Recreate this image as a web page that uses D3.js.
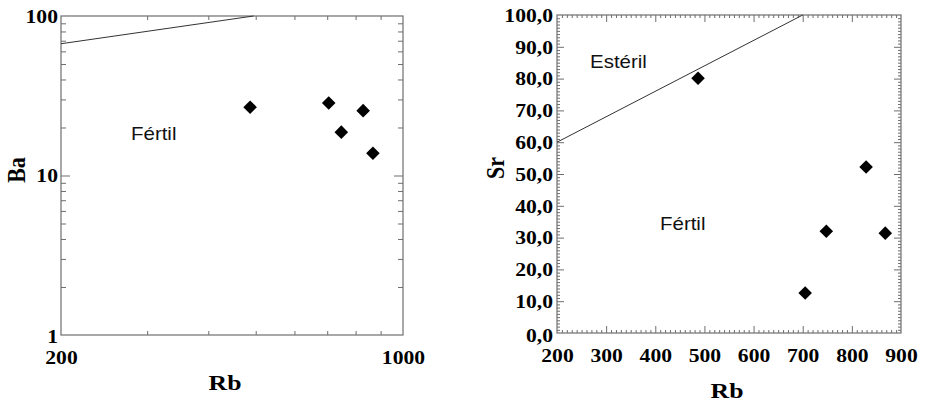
<!DOCTYPE html>
<html>
<head>
<meta charset="utf-8">
<script src="https://cdn.jsdelivr.net/npm/d3@7"></script>
<style>
  html, body { margin: 0; padding: 0; background: #fff; }
  svg { display: block; }
</style>
</head>
<body>
<svg id="chart" width="929" height="407"></svg>
<script>
// ---------- data ----------
const baRb = [487, 705, 748, 829, 868];
const baVals = [26.8, 28.5, 18.7, 25.5, 13.8];
const srRb = [487, 705, 748, 829, 868];
const srVals = [80.1, 12.6, 32.0, 52.2, 31.4];
const baLineRb = [200, 495];
const baLineBa = [67, 100];
const srLineRb = [200, 700];
const srLineSr = [60, 100];
const baXLabels = [200, 1000];
const baYLabels = [1, 10, 100];
const srXLabels = [200, 300, 400, 500, 600, 700, 800, 900];
const srYLabels = [0, 10, 20, 30, 40, 50, 60, 70, 80, 90, 100];

// ---------- setup ----------
const svg = d3.select("#chart");
const K = 1.17; // horizontal stretch of the glyphs in the reference
const serif = "'Liberation Serif', 'Times New Roman', serif";
const sans = "'Liberation Sans', Arial, sans-serif";
const frameColor = "#6e6e6e";
const tickFont = 18.5;

function stretchText(sel, dy) {
  sel.each(function () {
    const t = d3.select(this);
    const x = +t.attr("x") || 0;
    const y = +t.attr("y") || 0;
    t.attr("x", 0).attr("y", 0).attr("dy", dy)
      .attr("transform", `translate(${x},${y}) scale(${K},1)`);
  });
}

function diamond() {
  return d3.symbol(d3.symbolSquare, 92)();
}

// ================= LEFT: Ba vs Rb (log-log) =================
const L = { x0: 61, x1: 403, y0: 16, y1: 335 };
const xL = d3.scaleLog().domain([200, 1000]).range([L.x0, L.x1]);
const yL = d3.scaleLog().domain([1, 100]).range([L.y1, L.y0]);
const gL = svg.append("g");

const xMinorL = [300, 400, 500, 600, 700, 800, 900];
const yMinorL = [2, 3, 4, 5, 6, 7, 8, 9, 20, 30, 40, 50, 60, 70, 80, 90];
const yMajorL = [10];
function tickAxis(g, axis) { g.call(axis); g.select(".domain").remove(); g.selectAll("line").attr("stroke", frameColor); g.selectAll("text").remove(); }
tickAxis(gL.append("g").attr("transform", `translate(0,${L.y1})`), d3.axisBottom(xL).tickValues(xMinorL).tickSize(-4));
tickAxis(gL.append("g").attr("transform", `translate(0,${L.y0})`), d3.axisTop(xL).tickValues(xMinorL).tickSize(-4));
tickAxis(gL.append("g").attr("transform", `translate(${L.x0},0)`), d3.axisLeft(yL).tickValues(yMinorL).tickSize(-5));
tickAxis(gL.append("g").attr("transform", `translate(${L.x1},0)`), d3.axisRight(yL).tickValues(yMinorL).tickSize(-5));
tickAxis(gL.append("g").attr("transform", `translate(${L.x0},0)`), d3.axisLeft(yL).tickValues(yMajorL).tickSize(-9));
tickAxis(gL.append("g").attr("transform", `translate(${L.x1},0)`), d3.axisRight(yL).tickValues(yMajorL).tickSize(-9));

gL.append("rect").attr("x", L.x0).attr("y", L.y0).attr("width", L.x1 - L.x0).attr("height", L.y1 - L.y0)
  .attr("fill", "none").attr("stroke", frameColor).attr("stroke-width", 1.2);

const lyAx = gL.append("g").attr("transform", `translate(${L.x0},0)`)
  .call(d3.axisLeft(yL).tickValues(baYLabels).tickSize(0).tickPadding(3).tickFormat(d3.format("d")));
lyAx.select(".domain").remove();
lyAx.selectAll("text").attr("font-family", serif).attr("font-weight", "bold").attr("font-size", tickFont).attr("fill", "#000")
  .attr("y", d => d === 1 ? 1 : 0);
stretchText(lyAx.selectAll("text"), "0.34em");

const lxAx = gL.append("g").attr("transform", `translate(0,${L.y1})`)
  .call(d3.axisBottom(xL).tickValues(baXLabels).tickSize(0).tickPadding(16).tickFormat(d3.format("d")));
lxAx.select(".domain").remove();
lxAx.selectAll("text").attr("font-family", serif).attr("font-weight", "bold").attr("font-size", tickFont).attr("fill", "#000");
stretchText(lxAx.selectAll("text"), "0.71em");

gL.append("path")
  .datum(baLineRb.map((r, i) => [r, baLineBa[i]]))
  .attr("d", d3.line().x(d => xL(d[0])).y(d => yL(d[1])))
  .attr("fill", "none").attr("stroke", "#333").attr("stroke-width", 1);

gL.selectAll("path.pt").data(baRb.map((r, i) => [r, baVals[i]])).join("path")
  .attr("class", "pt").attr("d", diamond())
  .attr("transform", d => `translate(${xL(d[0])},${yL(d[1])}) rotate(45)`)
  .attr("fill", "#000");

gL.append("text").attr("font-family", sans).attr("font-size", 17.5).attr("fill", "#111")
  .attr("transform", `translate(131,140) scale(${K},1)`).text("Fértil");

gL.append("text").attr("font-family", serif).attr("font-weight", "bold").attr("font-size", 22)
  .attr("text-anchor", "middle").attr("transform", `translate(225,390) scale(${K},1)`).text("Rb");
gL.append("text").attr("font-family", serif).attr("font-weight", "bold").attr("font-size", 22)
  .attr("text-anchor", "middle").attr("transform", `translate(25,170) rotate(-90) scale(1,${K})`).text("Ba");

// ================= RIGHT: Sr vs Rb (linear) =================
const R = { x0: 557, x1: 901, y0: 15, y1: 333 };
const xR = d3.scaleLinear().domain([200, 900]).range([R.x0, R.x1]);
const yR = d3.scaleLinear().domain([0, 100]).range([R.y1, R.y0]);
const gR = svg.append("g");

const xMinorR = d3.range(200, 901, 10).filter(v => v % 100 !== 0);
const yMinorR = d3.range(0, 101, 1).filter(v => v % 10 !== 0);
const xMajorR = srXLabels.slice(1, -1);
const yMajorR = srYLabels.slice(1, -1);
tickAxis(gR.append("g").attr("transform", `translate(0,${R.y1})`), d3.axisBottom(xR).tickValues(xMinorR).tickSize(-3));
tickAxis(gR.append("g").attr("transform", `translate(0,${R.y0})`), d3.axisTop(xR).tickValues(xMinorR).tickSize(-3));
tickAxis(gR.append("g").attr("transform", `translate(0,${R.y1})`), d3.axisBottom(xR).tickValues(xMajorR).tickSize(-7));
tickAxis(gR.append("g").attr("transform", `translate(0,${R.y0})`), d3.axisTop(xR).tickValues(xMajorR).tickSize(-7));
tickAxis(gR.append("g").attr("transform", `translate(${R.x0},0)`), d3.axisLeft(yR).tickValues(yMinorR).tickSize(-3));
tickAxis(gR.append("g").attr("transform", `translate(${R.x1},0)`), d3.axisRight(yR).tickValues(yMinorR).tickSize(-3));
tickAxis(gR.append("g").attr("transform", `translate(${R.x0},0)`), d3.axisLeft(yR).tickValues(yMajorR).tickSize(-7));
tickAxis(gR.append("g").attr("transform", `translate(${R.x1},0)`), d3.axisRight(yR).tickValues(yMajorR).tickSize(-7));

gR.append("rect").attr("x", R.x0).attr("y", R.y0).attr("width", R.x1 - R.x0).attr("height", R.y1 - R.y0)
  .attr("fill", "none").attr("stroke", frameColor).attr("stroke-width", 1.2);

const commaFmt = v => d3.format(".1f")(v).replace(".", ",");
const ryAx = gR.append("g").attr("transform", `translate(${R.x0},0)`)
  .call(d3.axisLeft(yR).tickValues(srYLabels).tickSize(0).tickPadding(4).tickFormat(commaFmt));
ryAx.select(".domain").remove();
ryAx.selectAll("text").attr("font-family", serif).attr("font-weight", "bold").attr("font-size", tickFont).attr("fill", "#000")
  .attr("y", d => d === 0 ? 2 : 0);
stretchText(ryAx.selectAll("text"), "0.34em");

const rxAx = gR.append("g").attr("transform", `translate(0,${R.y1})`)
  .call(d3.axisBottom(xR).tickValues(srXLabels).tickSize(0).tickPadding(16).tickFormat(d3.format("d")));
rxAx.select(".domain").remove();
rxAx.selectAll("text").attr("font-family", serif).attr("font-weight", "bold").attr("font-size", tickFont).attr("fill", "#000");
stretchText(rxAx.selectAll("text"), "0.71em");

gR.append("path")
  .datum(srLineRb.map((r, i) => [r, srLineSr[i]]))
  .attr("d", d3.line().x(d => xR(d[0])).y(d => yR(d[1])))
  .attr("fill", "none").attr("stroke", "#333").attr("stroke-width", 1);

gR.selectAll("path.pt").data(srRb.map((r, i) => [r, srVals[i]])).join("path")
  .attr("class", "pt").attr("d", diamond())
  .attr("transform", d => `translate(${xR(d[0])},${yR(d[1])}) rotate(45)`)
  .attr("fill", "#000");

gR.append("text").attr("font-family", sans).attr("font-size", 17.5).attr("fill", "#111")
  .attr("transform", `translate(590,68) scale(${K},1)`).text("Estéril");
gR.append("text").attr("font-family", sans).attr("font-size", 17.5).attr("fill", "#111")
  .attr("transform", `translate(660,230) scale(${K},1)`).text("Fértil");

gR.append("text").attr("font-family", serif).attr("font-weight", "bold").attr("font-size", 22)
  .attr("text-anchor", "middle").attr("transform", `translate(727,398) scale(${K},1)`).text("Rb");
gR.append("text").attr("font-family", serif).attr("font-weight", "bold").attr("font-size", 22)
  .attr("text-anchor", "middle").attr("transform", `translate(504,168) rotate(-90) scale(1,${K})`).text("Sr");
</script>
</body>
</html>
